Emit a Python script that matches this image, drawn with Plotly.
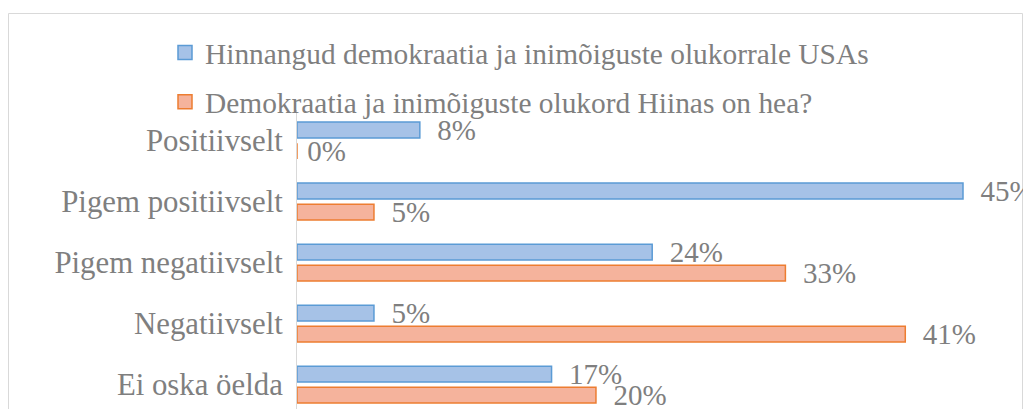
import plotly.graph_objects as go

# andmed
categories = ['Positiivselt', 'Pigem positiivselt', 'Pigem negatiivselt', 'Negatiivselt', 'Ei oska öelda']
usa_values = [8.3, 45.0, 24.0, 5.2, 17.2]
china_values = [0.0, 5.2, 33.0, 41.1, 20.2]
series_names = ['Hinnangud demokraatia ja inimõiguste olukorrale USAs',
                'Demokraatia ja inimõiguste olukord Hiinas on hea?']

W, H = 1023, 409
ML, MR, MT, MB = 297, 16, 110, 0
PW, PH = W - ML - MR, H - MT - MB
FONT = 'Liberation Serif, Times New Roman, serif'
GRAY = '#7f7f7f'
colors = [('#a6c2e7', '#5b9bd5'), ('#f5b39c', '#ed7d31')]


def px_x(p):
    return (p - ML) / PW


def px_y(p):
    return (H - MB - p) / PH


def label_tpl(values):
    # nullväärtusel silt telje lähedale
    return ['\u00a0%{x:.0f}%' if v == 0 else '\u00a0\u00a0%{x:.0f}%' for v in values]


fig = go.Figure()
for vals, name, (fill, edge), grp in zip([usa_values, china_values], series_names, colors, ['a', 'b']):
    fig.add_trace(go.Bar(
        y=categories, x=vals, orientation='h', name=name, showlegend=False,
        marker=dict(color=fill, line=dict(color=edge, width=1.5)),
        texttemplate=label_tpl(vals), textposition='outside',
        textfont=dict(family=FONT, size=29, color=GRAY),
        cliponaxis=False, constraintext='none'
    ))
    # legendi kirje ruudukujulise markeriga
    fig.add_trace(go.Scatter(
        x=[None], y=[None], mode='markers', name=name, legendgroup=grp,
        marker=dict(symbol='square', size=14, color=fill, line=dict(color=edge, width=1.5))
    ))

fig.update_layout(
    width=W, height=H,
    margin=dict(l=ML, r=MR, t=MT, b=MB, autoexpand=False),
    paper_bgcolor='white', plot_bgcolor='white',
    barmode='group', bargap=0.31, bargroupgap=0.25,
    font=dict(family=FONT, size=30, color=GRAY),
    showlegend=True,
    legend=dict(
        x=px_x(165), y=px_y(27), xanchor='left', yanchor='top',
        orientation='v', traceorder='grouped', tracegroupgap=8,
        font=dict(family=FONT, size=29.4, color=GRAY),
        bgcolor='rgba(0,0,0,0)'
    ),
    xaxis=dict(visible=False, range=[0, PW / 14.8], fixedrange=True),
    yaxis=dict(
        range=[4.4, -0.5], showline=True, linecolor='#d9d9d9', linewidth=1,
        showgrid=False, zeroline=False, ticks='', ticklabelstandoff=7,
        tickfont=dict(family=FONT, size=30.8, color=GRAY), fixedrange=True
    ),
    shapes=[dict(
        type='rect', xref='paper', yref='paper',
        x0=px_x(8.5), x1=px_x(1022.5), y0=px_y(430), y1=px_y(13.5),
        line=dict(color='#d9d9d9', width=1), layer='below'
    )]
)

fig.write_html("out.html", config={'displayModeBar': False},
               post_script="document.body.style.margin='0';")
